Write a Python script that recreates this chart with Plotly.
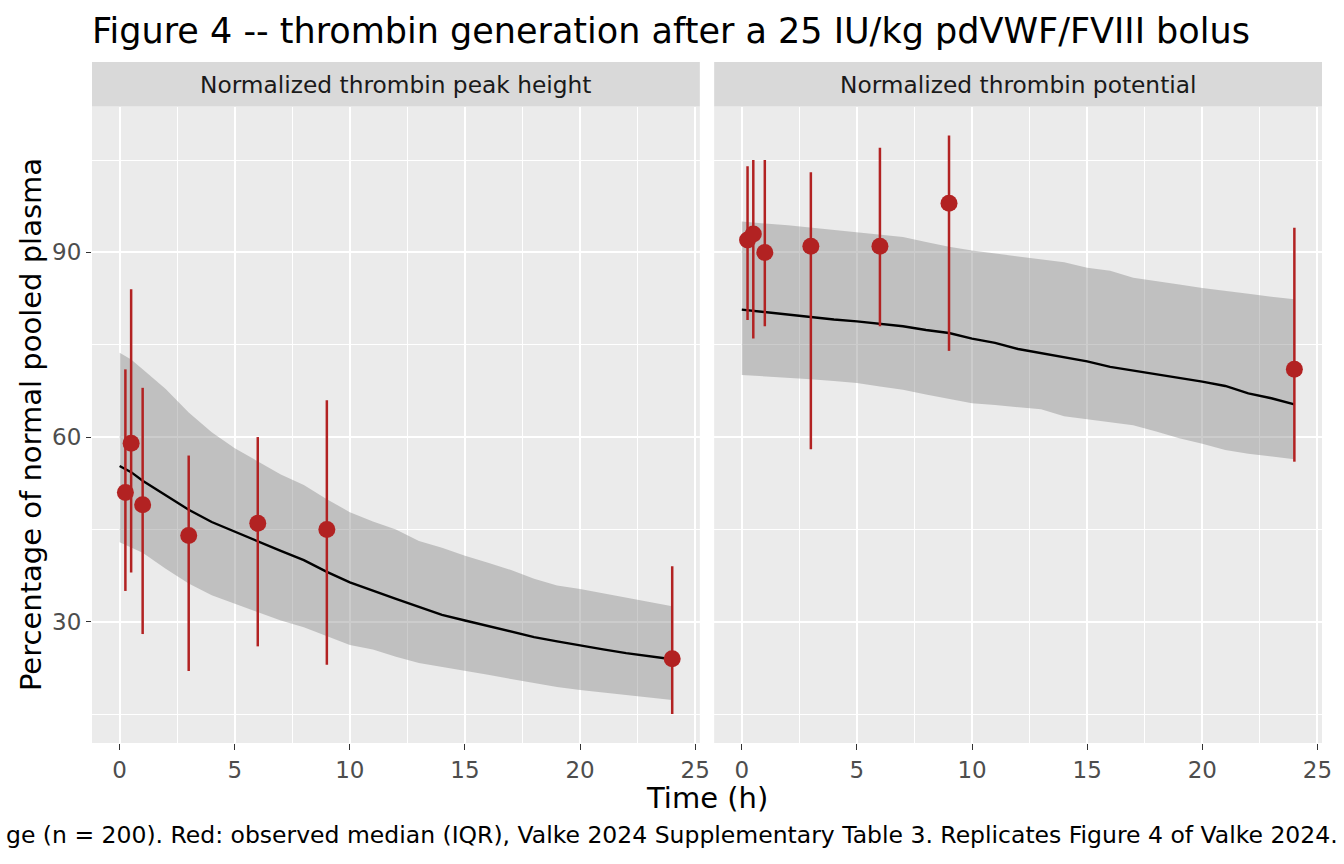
import plotly.graph_objects as go

# observed data (Valke 2024 Supplementary Table 3), median and IQR
obs_time = [0.25, 0.5, 1, 3, 6, 9, 24]
peak_med = [51, 59, 49, 44, 46, 45, 24]
peak_q1 = [35, 38, 28, 22, 26, 23, 15]
peak_q3 = [71, 84, 68, 57, 60, 66, 39]
etp_med = [92, 93, 90, 91, 91, 98, 71]
etp_q1 = [79, 76, 78, 58, 78, 74, 56]
etp_q3 = [104, 105, 105, 103, 107, 109, 94]

# simulated median and range
sim_time = [0, 0.5, 1, 2, 3, 4, 5, 6, 7, 8, 9, 10, 11, 12, 13, 14, 15, 16, 17, 18,
            19, 20, 21, 22, 23, 24]
peak_sim_med = [55.3, 54.3, 52.9, 50.6, 48.2, 46.2, 44.6, 43.1, 41.5, 40.0, 38.1, 36.4,
                35.0, 33.7, 32.4, 31.1, 30.2, 29.3, 28.4, 27.5, 26.8, 26.1, 25.5, 24.9,
                24.4, 23.9]
peak_sim_hi = [73.7, 72.6, 71.0, 67.8, 64.0, 60.8, 58.2, 56.0, 53.9, 52.2, 49.9, 47.8,
               46.3, 45.0, 43.1, 42.0, 40.7, 39.6, 38.4, 37.0, 35.9, 35.3, 34.6, 33.9,
               33.1, 32.5]
peak_sim_lo = [42.9, 42.0, 41.2, 38.6, 36.2, 34.3, 32.9, 31.5, 30.2, 29.1, 27.6, 26.2,
               25.5, 24.3, 23.3, 22.7, 22.0, 21.4, 20.7, 20.0, 19.4, 18.9, 18.5, 18.2,
               17.7, 17.3]
etp_sim_med = [80.7, 80.5, 80.3, 79.9, 79.4, 79.1, 78.8, 78.4, 78.0, 77.4, 76.9, 76.0,
               75.3, 74.3, 73.6, 73.0, 72.3, 71.4, 70.8, 70.3, 69.6, 69.0, 68.3, 67.1,
               66.3, 65.3]
etp_sim_hi = [95.0, 94.9, 94.7, 94.4, 94.0, 93.7, 93.3, 92.9, 92.5, 91.7, 90.9, 90.3,
              89.8, 89.3, 88.9, 88.4, 87.5, 87.0, 85.9, 85.4, 84.8, 84.2, 83.8, 83.3,
              82.8, 82.4]
etp_sim_lo = [70.1, 70.0, 69.9, 69.6, 69.4, 69.1, 68.8, 68.2, 67.7, 66.9, 66.2, 65.5,
              65.2, 64.9, 64.5, 63.4, 62.9, 62.4, 61.9, 60.9, 59.8, 58.9, 57.9, 57.3,
              56.8, 56.4]

panels = ["Normalized thrombin peak height", "Normalized thrombin potential"]
x_ticks = [0, 5, 10, 15, 20, 25]
y_ticks = [30, 60, 90]

FONT = "DejaVu Sans"
RED = "#B22222"
BAND = "rgba(127,127,127,0.4)"
W, H = 1344, 864
L, R, T, B = 92, 15, 62, 121
PW, PH = W - L - R, H - T - B
TOP = (PH - 44.5) / PH  # top of panels, below strips
DOMS = [[0, 611.3 / PW], [(717.7 - L) / PW, 1]]

fig = go.Figure()

series = [
    (obs_time, peak_med, peak_q1, peak_q3, peak_sim_med, peak_sim_lo, peak_sim_hi),
    (obs_time, etp_med, etp_q1, etp_q3, etp_sim_med, etp_sim_lo, etp_sim_hi),
]

for i, (t, med, q1, q3, smed, slo, shi) in enumerate(series):
    xa = "x" if i == 0 else "x2"
    ya = "y" if i == 0 else "y2"
    # band
    fig.add_trace(go.Scatter(x=sim_time, y=slo, mode="lines", line=dict(width=0),
                             xaxis=xa, yaxis=ya, showlegend=False, hoverinfo="skip"))
    fig.add_trace(go.Scatter(x=sim_time, y=shi, mode="lines", line=dict(width=0),
                             fill="tonexty", fillcolor=BAND,
                             xaxis=xa, yaxis=ya, showlegend=False, hoverinfo="skip"))
    fig.add_trace(go.Scatter(x=sim_time, y=smed, mode="lines",
                             line=dict(color="black", width=2.4),
                             xaxis=xa, yaxis=ya, showlegend=False))
    fig.add_trace(go.Scatter(
        x=t, y=med, mode="markers",
        marker=dict(color=RED, size=17),
        error_y=dict(type="data", symmetric=False,
                     array=[h - m for h, m in zip(q3, med)],
                     arrayminus=[m - l for m, l in zip(med, q1)],
                     color=RED, thickness=2.5, width=0),
        xaxis=xa, yaxis=ya, showlegend=False))

axis_common = dict(
    range=[-1.2, 25.2], tickvals=x_ticks, showgrid=True, gridcolor="white", gridwidth=2.2,
    zeroline=False, ticks="outside", ticklen=6, tickwidth=1.4, tickcolor="#333333",
    tickfont=dict(family=FONT, size=23, color="#4d4d4d"),
    minor=dict(tickvals=[2.5, 7.5, 12.5, 17.5, 22.5], showgrid=True,
               gridcolor="white", gridwidth=1.1, ticks=""),
    showline=False,
)

yaxis_common = dict(
    range=[10.3, 113.7], tickvals=y_ticks, showgrid=True, gridcolor="white", gridwidth=2.2,
    zeroline=False, domain=[0, TOP],
    minor=dict(tickvals=[15, 45, 75, 105], showgrid=True,
               gridcolor="white", gridwidth=1.1, ticks=""),
)

fig.update_layout(
    width=W, height=H,
    margin=dict(l=L, r=R, t=T, b=B),
    paper_bgcolor="white",
    plot_bgcolor="#ebebeb",
    font=dict(family=FONT, color="black"),
    title=dict(text="Figure 4 -- thrombin generation after a 25 IU/kg pdVWF/FVIII bolus",
               x=0, xref="paper", xanchor="left", y=1 - 31 / H, yref="container",
               yanchor="middle", font=dict(family=FONT, size=35, color="black")),
    xaxis=dict(axis_common, domain=DOMS[0], anchor="y"),
    xaxis2=dict(axis_common, domain=DOMS[1], anchor="y2"),
    yaxis=dict(yaxis_common, anchor="x", ticks="outside", ticklen=5, tickwidth=1.4,
               tickcolor="#333333",
               tickfont=dict(family=FONT, size=23, color="#4d4d4d")),
    yaxis2=dict(yaxis_common, anchor="x2", showticklabels=False, ticks=""),
)

# facet strips
for dom, label in zip(DOMS, panels):
    fig.add_shape(type="rect", xref="paper", yref="paper", x0=dom[0], x1=dom[1],
                  y0=TOP, y1=1, fillcolor="#d9d9d9", line=dict(width=0), layer="below")
    fig.add_annotation(text=label, xref="paper", yref="paper", x=(dom[0] + dom[1]) / 2,
                       y=(TOP + 1) / 2, showarrow=False, xanchor="center",
                       yanchor="middle", font=dict(family=FONT, size=23.3, color="#1a1a1a"))

fig.add_annotation(text="Time (h)", xref="paper", yref="paper", x=0.5, y=-(798 - 743) / PH,
                   showarrow=False, xanchor="center", yanchor="middle",
                   font=dict(family=FONT, size=29, color="black"))
fig.add_annotation(text="Percentage of normal pooled plasma", xref="paper", yref="paper",
                   x=(30 - L) / PW, y=TOP / 2, showarrow=False, textangle=-90,
                   xanchor="center", yanchor="middle",
                   font=dict(family=FONT, size=29, color="black"))
# caption is wider than the page in the original, right aligned and cut at the left
fig.add_annotation(text="ge (n = 200). Red: observed median (IQR), Valke 2024 Supplementary "
                        "Table 3. Replicates Figure 4 of Valke 2024.",
                   xref="paper", yref="paper", x=(1347 - L) / PW, y=-(835 - 743) / PH,
                   showarrow=False, xanchor="right", yanchor="middle",
                   font=dict(family=FONT, size=23.5, color="black"))

# drop the default 8px body margin so the figure fills the window exactly
fig.write_html("out.html", config={"displayModeBar": False},
               post_script="document.body.style.margin='0px';")
